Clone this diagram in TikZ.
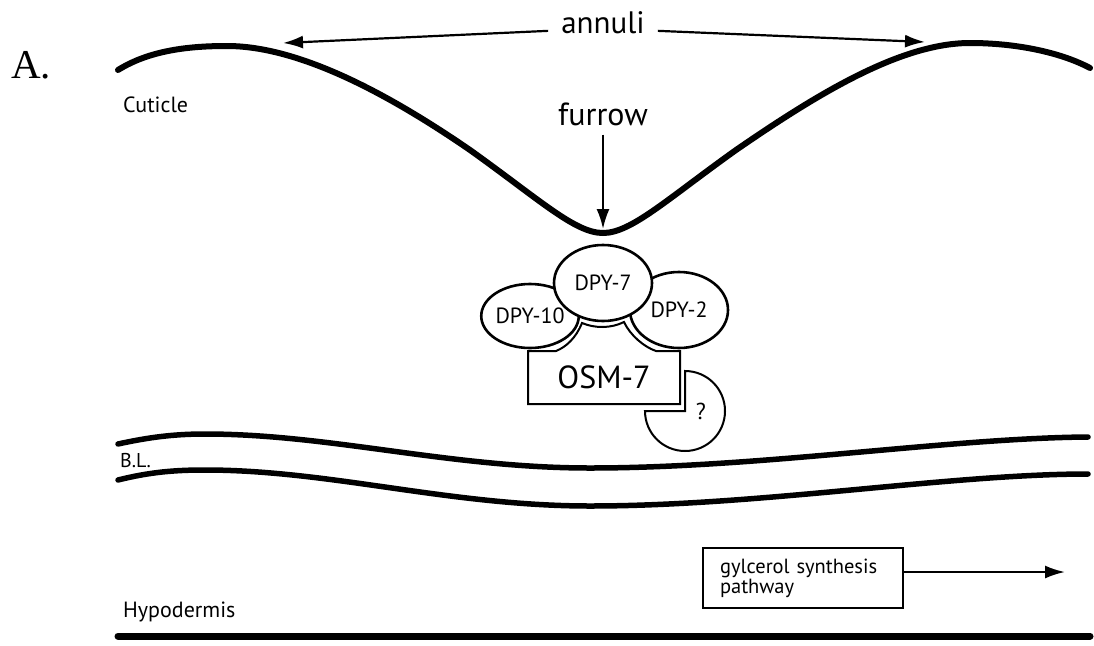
\documentclass[tikz,border=0pt]{standalone}
\usepackage{fontspec}
\newfontfamily\labelfont{PT Sans}
\newfontfamily\panelfont{Liberation Serif}
\usetikzlibrary{arrows.meta,shapes.geometric}

\newcommand{\fs}[1]{\labelfont\fontsize{#1}{#1}\selectfont}

\begin{document}
\begin{tikzpicture}[x=1pt, y=-1pt, every node/.style={inner sep=2pt},
  layer/.style={line width=6pt, line cap=round},
  protein/.style={ellipse, draw, fill=white, line width=2.6pt, inner sep=0pt, font=\fs{22}},
  pointer/.style={-{Latex[length=20pt, width=13pt]}, line width=2.2pt},
]
\useasboundingbox (0,0) rectangle (1094,645);

% Panel label
\node[anchor=base west, inner sep=0pt, font=\panelfont\fontsize{41}{43}\selectfont] (panel) at (11,78) {A.};

% Cuticle with annuli and furrow
\draw[layer] (118,70) .. controls (150,50) and (190,46) .. (227,46)
  .. controls (300,46) and (390,95) .. (470,150)
  .. controls (540,200) and (575,233) .. (603,233)
  .. controls (631,233) and (666,200) .. (736,150)
  .. controls (816,95) and (900,43) .. (970,43)
  .. controls (1015,43) and (1060,52) .. (1090,68);
\node[anchor=base west, font=\fs{22}] (cuticle) at (121,112) {Cuticle};

\node[anchor=base, inner xsep=13pt, font=\fs{31}] (annuli) at (603,33) {annuli};
\coordinate (peakL) at (283,43);
\coordinate (peakR) at (925,42);
\draw[pointer] (annuli.mid west) -- (peakL);
\draw[pointer] (annuli.mid east) -- (peakR);

\node[anchor=base, font=\fs{32}] (furrow) at (603,125) {furrow};
\coordinate (trough) at (603,229);
\draw[pointer, shorten <=7pt] (furrow.south) -- (trough);

% OSM-7 under the DPY complex
\draw[line width=2pt, fill=white] (528,404) -- (528,351) -- (556,351)
  .. controls (566,347) and (576,338) .. (582,323)
  .. controls (595,328.5) and (611,328.5) .. (624,322)
  .. controls (630,335) and (644,347) .. (656,351)
  -- (680,351) -- (680,404) -- cycle;
\node[font=\fs{32}] (osm) at (604,377) {OSM-7};

% unknown partner
\draw[line width=2pt, fill=white] (685,411) -- ++(0,-40) arc[start angle=-90, end angle=180, radius=40] -- cycle;
\node[font=\fs{23}] (quest) at (701,411) {?};

% DPY proteins
\node[protein, minimum width=96pt, minimum height=64pt] (dpyten) at (530,316) {DPY-10};
\node[protein, minimum width=98pt, minimum height=76pt] (dpytwo) at (679,310) {DPY-2};
\node[protein, minimum width=98pt, minimum height=76pt] (dpyseven) at (603,283) {DPY-7};

% Basal lamina
\draw[layer, line width=5.5pt] (118,444) .. controls (150,437) and (175,434) .. (205,434)
  .. controls (330,434) and (450,468) .. (590,468)
  .. controls (760,468) and (950,438) .. (1088,437);
\draw[layer, line width=5.5pt] (118,480) .. controls (150,472) and (175,470) .. (205,470)
  .. controls (330,470) and (450,506) .. (590,506)
  .. controls (760,506) and (950,474) .. (1088,474);
\node[anchor=base west, font=\fs{20}] (bl) at (118,467) {B.L.};

% Hypodermis
\node[draw, line width=2pt, text width=166pt, inner xsep=17pt, minimum height=60pt, align=left,
  anchor=north west, font=\labelfont\fontsize{20.5}{17}\selectfont] (glyc) at (702,547) {gylcerol synthesis\\pathway};
\coordinate (glycend) at (1065,572);
\draw[pointer, line width=2.2pt] (glyc.east |- glycend) -- (glycend);

\node[anchor=base west, font=\fs{22}] (hypo) at (121,617) {Hypodermis};
\draw[layer, line width=7pt] (118,636) -- (1090,636);

\end{tikzpicture}
\end{document}
